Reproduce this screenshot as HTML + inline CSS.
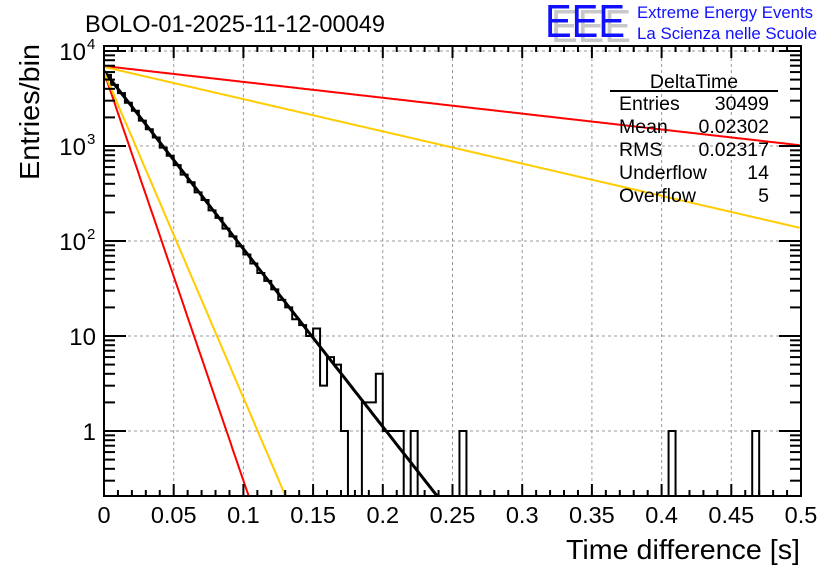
<!DOCTYPE html>
<html><head><meta charset="utf-8"><style>
body{margin:0;background:#fff;}
svg{display:block;font-family:"Liberation Sans",sans-serif;}
</style></head><body>
<svg id="c" width="836" height="572" viewBox="0 0 836 572">
<rect width="836" height="572" fill="#fff"/>
<g id="grid"></g>
<g id="plot"></g>
<g id="axes"></g>
<text x="85" y="32" font-size="24" textLength="300" lengthAdjust="spacingAndGlyphs">BOLO-01-2025-11-12-00049</text>
<text transform="translate(39,180) rotate(-90)" font-size="28" textLength="136" lengthAdjust="spacingAndGlyphs">Entries/bin</text>
<text x="800" y="559" font-size="28" text-anchor="end" textLength="234" lengthAdjust="spacingAndGlyphs">Time difference [s]</text>
<g>
<text x="551" y="42" font-size="46" fill="#c8c8c8" textLength="80" lengthAdjust="spacingAndGlyphs">EEE</text>
<text x="545" y="37" font-size="46" fill="#1010ff" textLength="80" lengthAdjust="spacingAndGlyphs">EEE</text>
<text x="637" y="18" font-size="16.5" fill="#1010ff" textLength="176" lengthAdjust="spacingAndGlyphs">Extreme Energy Events</text>
<text x="637" y="39" font-size="16.5" fill="#1010ff" textLength="180" lengthAdjust="spacingAndGlyphs">La Scienza nelle Scuole</text>
</g>
<g font-size="19.5">
<text x="694" y="88" text-anchor="middle">DeltaTime</text>
<line x1="610" y1="91" x2="778" y2="91" stroke="#000" stroke-width="2"/>
<text x="619" y="110">Entries</text><text x="769" y="110" text-anchor="end">30499</text>
<text x="619" y="133">Mean</text><text x="769" y="133" text-anchor="end">0.02302</text>
<text x="619" y="156">RMS</text><text x="769" y="156" text-anchor="end">0.02317</text>
<text x="619" y="179">Underflow</text><text x="769" y="179" text-anchor="end">14</text>
<text x="619" y="202">Overflow</text><text x="769" y="202" text-anchor="end">5</text>
</g>
</svg>
<script>
// histogram bin counts, bins of 0.005 s from 0 to 0.5
const binCounts = [5600,4400,3600,2850,2350,1850,1500,1230,960,790,630,500,415,325,270,210,175,135,112,88,72,58,46,38,31,24,20,15,13,10,12,3,6,5,1,0,0,2,2,4,1,1,1,0,1,0,0,0,0,0,0,1,0,0,0,0,0,0,0,0,0,0,0,0,0,0,0,0,0,0,0,0,0,0,0,0,0,0,0,0,0,1,0,0,0,0,0,0,0,0,0,0,0,1,0,0,0,0,0,0];
const binWidth = 0.005;
// exponential curves: amplitude and decay constant (s)
const curveNames = ["fit-black","red-steep","yellow-steep","red-shallow","yellow-shallow"];
const curveAmp = [6150,6000,6000,6950,6800];
const curveTau = [0.0232,0.0101,0.01267,0.26,0.128];
const curveColor = ["#000","#ff0000","#ffcc00","#ff0000","#ffcc00"];
const xTicks = [0,0.05,0.1,0.15,0.2,0.25,0.3,0.35,0.4,0.45,0.5];
const xTickLabels = ["0","0.05","0.1","0.15","0.2","0.25","0.3","0.35","0.4","0.45","0.5"];
const yTicks = [1,10,100,1000,10000];
const yTickBase = ["1","10","10","10","10"];
const yTickExp = ["","","2","3","4"];

const NS="http://www.w3.org/2000/svg";
const L=104,R=801,T=46,B=496;
const yMin=Math.pow(10,-65/95), yMax=Math.pow(10,385/95);
function xs(v){return L+(v-0)/(0.5-0)*(R-L);}
function ys(v){const lv=Math.log10(Math.max(v,1e-9));return B-(lv-Math.log10(yMin))/(Math.log10(yMax)-Math.log10(yMin))*(B-T);}
function mk(tag,attrs,parent){const e=document.createElementNS(NS,tag);for(const k in attrs)e.setAttribute(k,attrs[k]);parent.appendChild(e);return e;}
const grid=document.getElementById('grid'),plot=document.getElementById('plot'),axes=document.getElementById('axes');
const cp=mk('clipPath',{id:'cp'},document.getElementById('c'));
mk('rect',{x:L,y:T,width:R-L,height:B-T},cp);
plot.setAttribute('clip-path','url(#cp)');
xTicks.forEach(v=>{if(v>0&&v<0.5){const g=mk('line',{x1:xs(v),x2:xs(v),y1:T,y2:B,stroke:'#999','stroke-dasharray':'3,3','stroke-width':1},grid);

}});
yTicks.forEach(v=>{const g=mk('line',{x1:L,x2:R,y1:ys(v),y2:ys(v),stroke:'#999','stroke-dasharray':'3,3','stroke-width':1},grid);

});
let d='M'+xs(0)+','+ys(yMin);
binCounts.forEach((c,i)=>{const y=c>0?ys(c):B+5;d+=' L'+xs(i*binWidth)+','+y+' L'+xs((i+1)*binWidth)+','+y;});
d+=' L'+xs(0.5)+','+(B+5);
const h=mk('path',{d:d,fill:'none',stroke:'#000','stroke-width':2},plot);


curveNames.forEach((n,k)=>{let p='';for(let t=0;t<=0.5;t+=0.001){const v=curveAmp[k]*Math.exp(-t/curveTau[k]);if(v<yMin*0.8)break;p+=(p?' L':'M')+xs(t).toFixed(1)+','+ys(v).toFixed(1);}
const c=mk('path',{d:p,fill:'none',stroke:curveColor[k],'stroke-width':k==0?3:2},plot);

});
const f=mk('rect',{x:L,y:T,width:R-L,height:B-T,fill:'none',stroke:'#000','stroke-width':2},axes);


for(let i=0;i<=50;i++){const v=i*0.01,len=(i%5==0)?12:6;
mk('line',{x1:xs(v),x2:xs(v),y1:B,y2:B-len,stroke:'#000','stroke-width':2},axes);
mk('line',{x1:xs(v),x2:xs(v),y1:T,y2:T+len,stroke:'#000','stroke-width':2},axes);}
xTicks.forEach((v,i)=>{const t=mk('text',{x:xs(v),y:523,'font-size':23.5,'text-anchor':'middle'},axes);t.textContent=xTickLabels[i];

});
for(let e=-1;e<=4;e++){for(let m=1;m<=9;m++){const v=m*Math.pow(10,e);if(v<yMin||v>yMax)continue;const len=m==1?22:11;
mk('line',{x1:L,x2:L+len,y1:ys(v),y2:ys(v),stroke:'#000','stroke-width':2},axes);
mk('line',{x1:R,x2:R-len,y1:ys(v),y2:ys(v),stroke:'#000','stroke-width':2},axes);}}
yTicks.forEach((v,i)=>{const hasExp=yTickExp[i]!=='';
const t=mk('text',{x:hasExp?86:96,y:ys(v)+9,'font-size':24,'text-anchor':'end'},axes);t.textContent=yTickBase[i];


if(hasExp){const s=mk('text',{x:87,y:ys(v)-2,'font-size':15},axes);s.textContent=yTickExp[i];

}});
</script>
</body></html>
